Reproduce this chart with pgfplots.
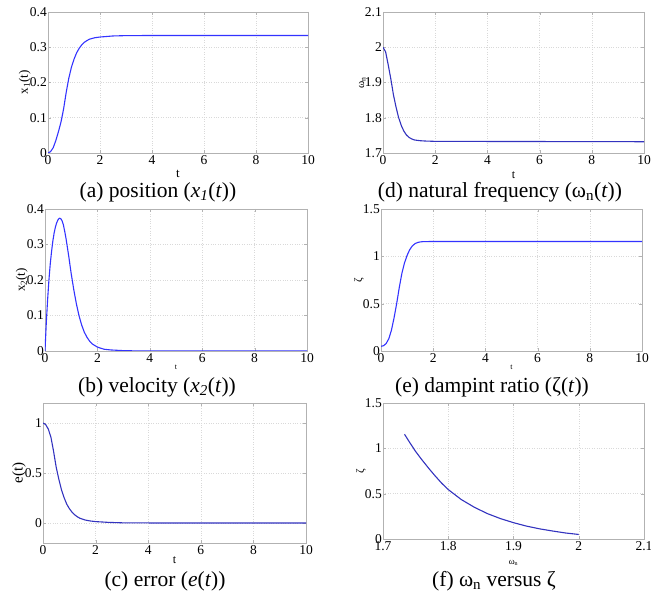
\documentclass[border=0pt]{standalone}
\usepackage{pgfplots}
\pgfplotsset{compat=1.18}
\usepackage{fontspec}
\setmainfont{Liberation Serif}
\definecolor{cA}{rgb}{0.2,0.2,1}
\definecolor{cB}{rgb}{0.2,0.2,0.75}
\newcommand{\fs}[1]{\fontsize{#1}{#1}\selectfont}
\pgfplotsset{
  myax/.style={
    scale only axis, anchor=south west,
    xmin=0, xmax=10, xtick={0,2,4,6,8,10},
    grid=major, grid style={gray!30, dotted, line width=0.5pt},
    axis line style={gray!60, line width=0.6pt},
    tick style={gray!60}, tick align=inside, major tick length=3pt,
    ticklabel style={font=\fs{13.5}},
    yticklabel style={inner sep=1pt},
    xticklabel style={inner sep=2pt},
    /pgf/number format/assume math mode=true,
    xlabel={t},
    xlabel style={inner sep=0.5pt},
    ylabel style={inner sep=0pt, yshift=-2pt},
    every axis plot/.append style={line width=1.1pt, no marks},
  }
}
\begin{document}
\begin{tikzpicture}
\useasboundingbox (0pt,0pt) rectangle (651pt,592pt);
% (a)
\begin{axis}[myax, at={(48pt,439pt)}, width=260pt, height=141pt,
  ymin=0, ymax=0.4, ytick={0,0.1,0.2,0.3,0.4}, yticklabels={0,0.1,0.2,0.3,0.4},
  xlabel style={font=\fs{13}, yshift=-3pt}, ylabel style={font=\fs{13}},
  ylabel={x\textsubscript{1}(t)}]
\addplot[cA] coordinates {(0,0)(0.1,0.004)(0.2,0.015)(0.3,0.035)(0.4,0.06)(0.5,0.088)(0.6,0.125)(0.7,0.172)(0.8,0.212)(0.9,0.243)(1.0,0.266)(1.1,0.284)(1.2,0.297)(1.3,0.307)(1.4,0.314)(1.5,0.319)(1.6,0.323)(1.8,0.327)(2.0,0.329)(2.5,0.332)(3,0.333)(4,0.3333)(10,0.3333)};
\end{axis}
% (d)
\begin{axis}[myax, at={(383pt,439pt)}, width=261pt, height=141pt,
  ymin=1.7, ymax=2.1, ytick={1.7,1.8,1.9,2,2.1}, yticklabels={1.7,1.8,1.9,2,2.1},
  xlabel style={font=\fs{12}, yshift=-5pt}, ylabel style={font=\fs{11}},
  ylabel={ω\textsubscript{n}}]
\addplot[cB] coordinates {(0,2.0)(0.1,1.987)(0.2,1.95)(0.3,1.91)(0.4,1.865)(0.5,1.83)(0.6,1.80)(0.7,1.778)(0.8,1.762)(0.9,1.751)(1.0,1.744)(1.1,1.740)(1.2,1.737)(1.4,1.735)(1.6,1.734)(2,1.733)(10,1.732)};
\end{axis}
% (b)
\begin{axis}[myax, at={(45pt,241pt)}, width=262pt, height=142pt,
  ymin=0, ymax=0.4, ytick={0,0.1,0.2,0.3,0.4}, yticklabels={0,0.1,0.2,0.3,0.4},
  xlabel style={font=\fs{8}}, ylabel style={font=\fs{13}},
  ylabel={x\textsubscript{2}(t)}]
\addplot[cA] coordinates {(0,0)(0.05,0.08)(0.1,0.145)(0.15,0.2)(0.2,0.245)(0.25,0.28)(0.3,0.31)(0.35,0.333)(0.4,0.35)(0.45,0.362)(0.5,0.37)(0.55,0.374)(0.6,0.373)(0.65,0.367)(0.7,0.356)(0.75,0.338)(0.8,0.318)(0.9,0.27)(1.0,0.218)(1.1,0.172)(1.2,0.132)(1.3,0.099)(1.4,0.073)(1.5,0.053)(1.6,0.039)(1.7,0.028)(1.8,0.02)(2.0,0.011)(2.25,0.005)(2.5,0.003)(3,0.001)(3.5,0.0003)(4,0)(10,0)};
\end{axis}
% (e)
\begin{axis}[myax, at={(381pt,241pt)}, width=261pt, height=142pt,
  ymin=0, ymax=1.5, ytick={0,0.5,1,1.5}, yticklabels={0,0.5,1,1.5},
  xlabel style={font=\fs{8}}, ylabel style={font=\fs{11}},
  ylabel={ζ}]
\addplot[cA] coordinates {(0,0.05)(0.1,0.056)(0.2,0.08)(0.3,0.13)(0.4,0.22)(0.5,0.35)(0.6,0.5)(0.7,0.67)(0.8,0.82)(0.9,0.93)(1.0,1.01)(1.1,1.07)(1.2,1.11)(1.3,1.133)(1.4,1.146)(1.5,1.152)(1.6,1.155)(2,1.157)(10,1.157)};
\end{axis}
% (c)
\begin{axis}[myax, at={(43pt,49pt)}, width=263pt, height=140pt,
  ymin=-0.2, ymax=1.2, ytick={0,0.5,1}, yticklabels={0,0.5,1},
  xlabel style={font=\fs{12}}, ylabel style={font=\fs{15}},
  ylabel={e(t)}]
\addplot[cB] coordinates {(0,1)(0.1,0.985)(0.2,0.94)(0.3,0.86)(0.4,0.72)(0.5,0.56)(0.6,0.44)(0.7,0.335)(0.8,0.255)(0.9,0.19)(1.0,0.145)(1.1,0.11)(1.2,0.083)(1.3,0.063)(1.4,0.048)(1.6,0.03)(1.8,0.02)(2.0,0.014)(2.5,0.006)(3,0.002)(4,0.0005)(10,0)};
\end{axis}
% (f)
\begin{axis}[myax, at={(383pt,53pt)}, width=261pt, height=136pt,
  xmin=1.7, xmax=2.1, xtick={1.7,1.8,1.9,2,2.1}, xticklabels={1.7,1.8,1.9,2,2.1},
  ymin=0, ymax=1.5, ytick={0,0.5,1,1.5}, yticklabels={0,0.5,1,1.5},
  xlabel={ω\textsubscript{n}},
  xlabel style={font=\fs{9}, yshift=-7pt}, ylabel style={font=\fs{11}},
  ylabel={ζ}]
\addplot[cB] coordinates {(1.733,1.155)(1.74,1.075)(1.75,0.965)(1.76,0.87)(1.77,0.78)(1.78,0.695)(1.79,0.615)(1.80,0.545)(1.82,0.435)(1.84,0.35)(1.86,0.28)(1.88,0.225)(1.90,0.18)(1.92,0.142)(1.94,0.112)(1.96,0.088)(1.98,0.066)(2.0,0.05)};
\end{axis}
% captions
\node[font=\fs{21.5}] at (158pt,400pt) {(a) position (\textit{x\textsubscript{1}}(\textit{t}))};
\node[font=\fs{21.5}] at (500pt,400pt) {(d) natural frequency (ω\textsubscript{n}(\textit{t}))};
\node[font=\fs{21.5}] at (157pt,205pt) {(b) velocity (\textit{x\textsubscript{2}}(\textit{t}))};
\node[font=\fs{21.5}] at (492pt,205pt) {(e) dampint ratio (ζ(\textit{t}))};
\node[font=\fs{21.5}] at (165pt,11pt) {(c) error (\textit{e}(\textit{t}))};
\node[font=\fs{21.5}] at (494pt,11pt) {(f) ω\textsubscript{n} versus ζ};
\end{tikzpicture}
\end{document}
